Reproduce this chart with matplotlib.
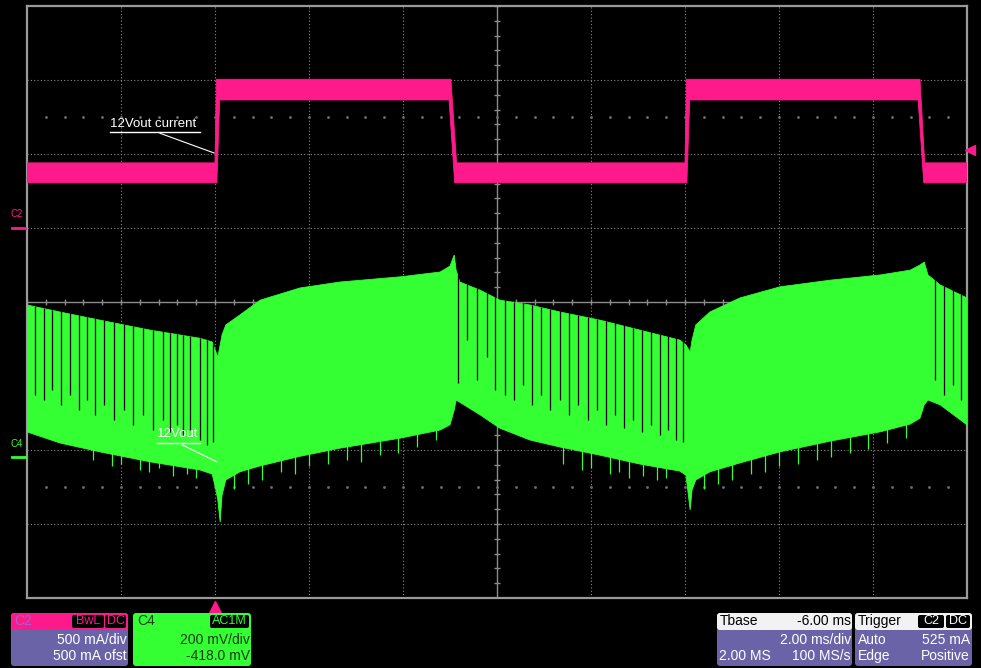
import numpy as np
import matplotlib.pyplot as plt
from matplotlib.patches import FancyBboxPatch

plt.rcParams['font.family'] = ['Liberation Sans', 'DejaVu Sans']

PINK = '#ff1a8c'
GREEN = '#33ff33'
PURPLE = '#6b63a8'
GRID = '#8c8c8c'

# time base: 2 ms/div, 10 div, trigger at t=0
t_left, t_right = -4.0, 16.0

# channel settings
c2_scale, c2_pos = 500.0, 1.0      # mA/div, marker position in div
c4_scale, c4_ofst = 200.0, -418.0  # mV/div, offset mV

# C2: 12Vout current (mA), envelope of the noisy band
cur_hi_t = [-4.0, 0.0, 0.03, 5.02, 5.14, 10.0, 10.03, 15.0, 15.1, 16.0]
cur_hi = [440, 440, 1005, 1005, 440, 440, 1005, 1005, 440, 440]
cur_lo_t = [-4.0, 0.04, 0.1, 4.98, 5.1, 10.04, 10.1, 14.96, 15.08, 16.0]
cur_lo = [305, 305, 865, 865, 305, 305, 865, 865, 305, 305]

# C4: 12Vout ripple (mV), upper / lower envelope
v_t = [-4.0, -3.30, -2.45, -1.38, -0.32, -0.06, 0.02, 0.06, 0.11, 0.15, 0.23,
       0.53, 0.96, 1.81, 2.66, 3.94, 4.79, 5.0, 5.09, 5.13, 5.21, 5.64, 6.06,
       6.70, 7.34, 8.19, 9.04, 9.89, 10.02, 10.11, 10.15, 10.23, 10.53, 11.17,
       12.02, 13.09, 14.15, 14.79, 15.0, 15.09, 15.17, 15.43, 16.0]
v_hi = [410, 391, 369, 342, 320, 310, 283, 269, 302, 329, 356,
        383, 423, 456, 472, 486, 499, 515, 545, 504, 472, 450, 423,
        410, 391, 369, 342, 315, 302, 283, 315, 356, 391, 429,
        459, 477, 491, 504, 518, 526, 491, 464, 429]
v_lo = [67, 37, 13, -14, -36, -47, -90, -117, -177, -104, -63,
        -41, -25, 1, 23, 50, 72, 86, 126, 153, 147, 113, 77,
        45, 26, 4, -20, -39, -50, -144, -90, -63, -41, -17,
        13, 42, 67, 88, 104, 140, 153, 140, 86]

# dark gaps in the ripple band (time ms, bottom mV)
gap_t = [-3.83, -3.64, -3.47, -3.28, -3.09, -2.89, -2.72, -2.55, -2.36, -2.15,
         -1.94, -1.74, -1.53, -1.32, -1.11, -0.96, -0.81, -0.68, -0.53, -0.32,
         -0.17, -0.04,
         5.17, 5.36, 5.57, 5.79, 5.96, 6.17, 6.36, 6.55, 6.74, 6.94, 7.13, 7.34,
         7.53, 7.72, 7.94, 8.13, 8.32, 8.51, 8.70, 8.89, 9.09, 9.28, 9.47, 9.64,
         9.81, 9.96,
         15.32, 15.51, 15.70, 15.87]
gap_v = [167, 153, 180, 140, 167, 126, 153, 113, 140, 99,
         126, 86, 113, 72, 99, 67, 86, 58, 72, 45,
         31, 40,
         199, 315, 207, 269, 180, 167, 153, 194, 140, 167, 126, 153,
         113, 140, 99, 126, 86, 113, 77, 99, 67, 86, 58, 72,
         45, 40,
         207, 167, 194, 153]

# short spikes below the band (time ms, bottom mV)
spk_t = [-2.6, -2.2, -2.0, -1.6, -1.4, -1.2, -0.9, -0.6, -0.4, 0.4, 0.7, 1.0,
         1.4, 1.7, 2.0, 2.4, 2.8, 3.1, 3.5, 3.9, 4.3, 4.7,
         7.4, 7.8, 8.0, 8.4, 8.6, 8.8, 9.1, 9.4, 9.6, 10.4, 10.7, 11.0,
         11.4, 11.7, 12.0, 12.4, 12.8, 13.1, 13.5, 13.9, 14.3, 14.7]
spk_v = [-9, -25, -20, -36, -41, -30, -52, -47, -58, -88, -74, -63,
         -41, -47, -25, -20, -9, -14, 4, 9, 26, 45,
         -20, -36, -30, -47, -41, -58, -52, -63, -58, -88, -74, -63,
         -47, -41, -25, -20, -9, 0, 9, 20, 37, 50]

trig_level = 525  # mA

fig = plt.figure(figsize=(9.81, 6.68), dpi=100, facecolor='black')
rect = [27 / 981, 70 / 668, 940 / 981, 592 / 668]
ax = fig.add_axes(rect, facecolor='black')
ax4 = fig.add_axes(rect, facecolor='none', sharex=ax)

ax.set_xlim(t_left, t_right)
ax.set_ylim((-4 - c2_pos) * c2_scale, (4 - c2_pos) * c2_scale)
ax4.set_ylim(-4 * c4_scale - c4_ofst, 4 * c4_scale - c4_ofst)

for a in (ax, ax4):
    a.set_xticks([])
    a.set_yticks([])
for s in ax.spines.values():
    s.set_color('#9a9a9a')
    s.set_linewidth(1.6)
for s in ax4.spines.values():
    s.set_visible(False)

# graticule
div_t = np.arange(t_left, t_right + 0.01, 2.0)
div_y = np.arange(-4, 5) * c2_scale - c2_pos * c2_scale
for x in div_t[1:-1]:
    if x == 6.0:
        ax.axvline(x, color=GRID, lw=1.0, zorder=1)
    else:
        ax.axvline(x, color=GRID, lw=0.8, ls=(0, (1, 2)), zorder=1)
for y in div_y[1:-1]:
    if y == -c2_pos * c2_scale:
        ax.axhline(y, color=GRID, lw=1.0, zorder=1)
    else:
        ax.axhline(y, color=GRID, lw=0.8, ls=(0, (1, 2)), zorder=1)
mid_y = -c2_pos * c2_scale
sub_t = np.arange(t_left, t_right + 0.01, 0.4)
sub_y = np.arange(-4, 4.01, 0.2) * c2_scale + mid_y
ax.plot(sub_t, np.full_like(sub_t, mid_y), ls='none', marker='|', ms=5,
        mew=1, color=GRID, zorder=1)
ax.plot(np.full_like(sub_y, 6.0), sub_y, ls='none', marker='_', ms=5,
        mew=1, color=GRID, zorder=1)
for d in (2.5, -2.5):
    ax.plot(sub_t[1:-1], np.full(len(sub_t) - 2, mid_y + d * c2_scale),
            ls='none', marker='s', ms=0.9, color='#707070', zorder=1)

# C4 trace
ax4.fill(np.r_[v_t, v_t[::-1]], np.r_[v_hi, v_lo[::-1]], color=GREEN,
         lw=0.6, ec=GREEN, zorder=3)
ax4.vlines(spk_t, np.interp(spk_t, v_t, v_lo) + 5, spk_v, color=GREEN,
           lw=0.9, zorder=3)
ax4.vlines(gap_t, gap_v, np.interp(gap_t, v_t, v_hi) + 2, color='black',
           lw=0.9, zorder=4)

# C2 trace
ax.fill(np.r_[cur_hi_t, cur_lo_t[::-1]], np.r_[cur_hi, cur_lo[::-1]],
        color=PINK, lw=0.6, ec=PINK, zorder=3)

# markers
ax.plot([t_left - 0.32, t_left - 0.05], [0, 0], color=PINK, lw=2,
        clip_on=False, zorder=5)
ax.text(t_left - 0.36, 60, 'C2', color=PINK, fontsize=7, va='bottom',
        ha='left', clip_on=False)
ax4.plot([t_left - 0.32, t_left - 0.05], [0, 0], color=GREEN, lw=2,
         clip_on=False, zorder=5)
ax4.text(t_left - 0.36, 20, 'C4', color=GREEN, fontsize=7, va='bottom',
         ha='left', clip_on=False)
ax.plot([t_right + 0.07], [trig_level], marker='<', ms=7, color=PINK,
        clip_on=False, zorder=5)
ax.plot([0.0], [(-4 - c2_pos) * c2_scale - 60], marker='^', ms=8, color=PINK,
        clip_on=False, zorder=5)

# labels
ax.text(-2.23, 665, '12Vout current', color='white', fontsize=9.5,
        ha='left', va='bottom', zorder=6)
ax.plot([-2.23, -0.32], [649, 649], color='white', lw=1, zorder=6)
ax.plot([-1.17, -0.02], [640, 507], color='white', lw=0.8, zorder=6)
ax4.text(-1.23, 45, '12Vout', color='white', fontsize=9.5,
         ha='left', va='bottom', zorder=6)
ax4.plot([-1.23, -0.32], [38, 38], color='white', lw=1, zorder=6)
ax4.plot([-0.70, 0.04], [32, -14], color='white', lw=0.8, zorder=6)

# info boxes along the bottom
ov = fig.add_axes([0, 0, 1, 1], facecolor='none')
ov.set_xlim(0, 981)
ov.set_ylim(668, 0)
ov.axis('off')


def box(x0, y0, x1, y1, fc, r=3):
    ov.add_patch(FancyBboxPatch((x0 + r, y0 + r), x1 - x0 - 2 * r,
                                y1 - y0 - 2 * r, boxstyle=f'round,pad={r}',
                                fc=fc, ec='none'))


def txt(x, y, s, c, ha='left', size=10):
    ov.text(x, y, s, color=c, ha=ha, va='center', fontsize=size)


# C2
box(11, 613, 128, 666, PURPLE)
box(11, 613, 128, 630, PINK)
box(72, 615, 104, 628, 'black', r=2)
box(105, 615, 126, 628, 'black', r=2)
txt(14, 621, 'C2', '#a060d0')
txt(88, 621.5, 'BwL', PINK, 'center', 9)
txt(115.5, 621.5, 'DC', PINK, 'center', 9)
txt(127, 640, '500 mA/div', 'white', 'right')
txt(127, 656, '500 mA ofst', 'white', 'right')

# C4
box(133, 613, 251, 666, GREEN)
box(210, 615, 249, 628, 'black', r=2)
txt(137, 621, 'C4', '#1a3a1a')
txt(229.5, 621.5, 'AC1M', GREEN, 'center', 9)
txt(250, 640, '200 mV/div', '#1a3a1a', 'right')
txt(250, 656, '-418.0 mV', '#1a3a1a', 'right')

# Tbase
box(717, 613, 852, 666, PURPLE)
box(717, 613, 852, 630, '#f2f2f2')
txt(720, 621, 'Tbase', 'black')
txt(851, 621, '-6.00 ms', 'black', 'right')
txt(851, 640, '2.00 ms/div', 'white', 'right')
txt(719, 656, '2.00 MS', 'white')
txt(851, 656, '100 MS/s', 'white', 'right')

# Trigger
box(855, 613, 972, 666, PURPLE)
box(855, 613, 972, 630, '#f2f2f2')
box(918, 615, 944, 628, 'black', r=2)
box(946, 615, 970, 628, 'black', r=2)
txt(858, 621, 'Trigger', 'black')
txt(931, 621.5, 'C2', 'white', 'center', 9)
txt(958, 621.5, 'DC', 'white', 'center', 9)
txt(858, 640, 'Auto', 'white')
txt(970, 640, '525 mA', 'white', 'right')
txt(858, 656, 'Edge', 'white')
txt(970, 656, 'Positive', 'white', 'right')

fig.savefig('out.png', dpi=100, facecolor='black')
